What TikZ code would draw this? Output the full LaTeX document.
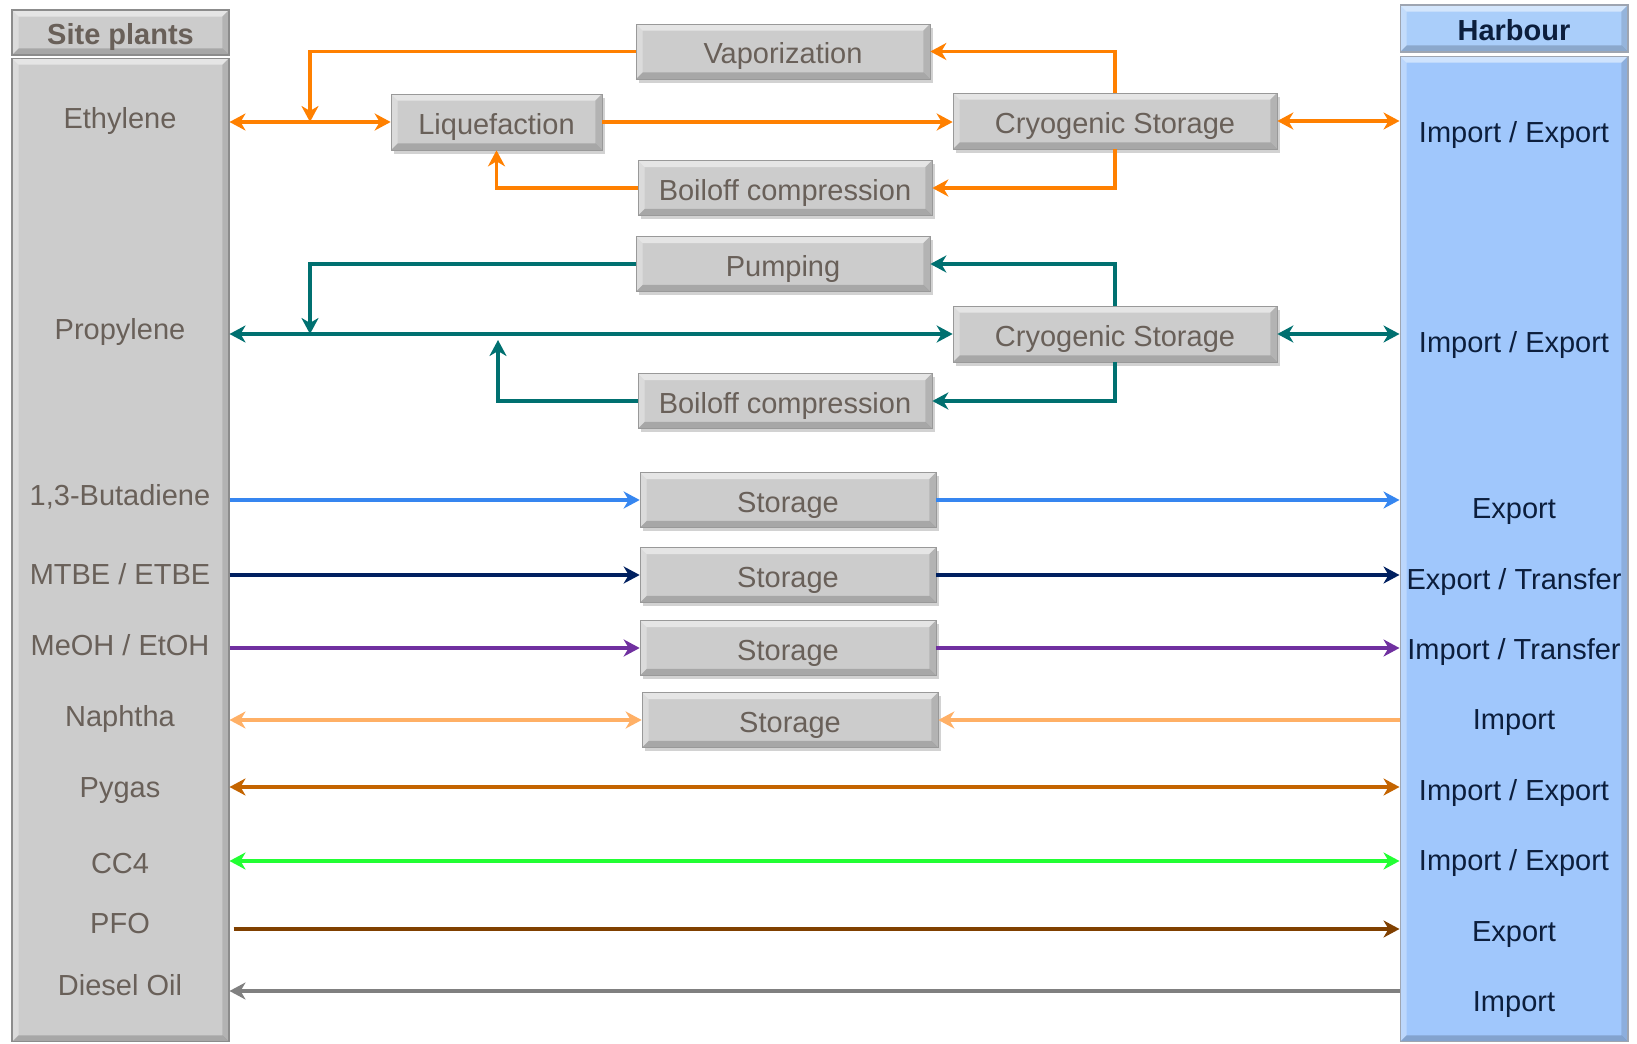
\documentclass[tikz,border=0pt]{standalone}
\usepackage{fontspec}
\setmainfont{Liberation Sans}
\usetikzlibrary{arrows.meta,shadows,calc}
\definecolor{boxgray}{RGB}{204,204,204}
\definecolor{boxtext}{RGB}{105,96,89}
\definecolor{hbfill}{RGB}{160,199,252}
\definecolor{hbhead}{RGB}{170,206,250}
\definecolor{hbtext}{RGB}{12,30,60}
\definecolor{cOrange}{RGB}{255,128,0}
\definecolor{cTeal}{RGB}{0,112,112}
\definecolor{cBlue}{RGB}{54,134,240}
\definecolor{cNavy}{RGB}{0,32,96}
\definecolor{cPurple}{RGB}{112,48,160}
\definecolor{cNaph}{RGB}{255,176,102}
\definecolor{cPygas}{RGB}{196,100,0}
\definecolor{cCC}{RGB}{34,255,51}
\definecolor{cPFO}{RGB}{128,64,0}
\definecolor{cDiesel}{RGB}{128,128,128}
\tikzset{
  bevel/.style={path picture={
    \fill[white,opacity=0.5] (path picture bounding box.north west) -- (path picture bounding box.north east) -- ([shift={(-0.13cm,-0.13cm)}]path picture bounding box.north east) -- ([shift={(0.13cm,-0.13cm)}]path picture bounding box.north west) -- cycle;
    \fill[white,opacity=0.3] (path picture bounding box.north west) -- (path picture bounding box.south west) -- ([shift={(0.13cm,0.13cm)}]path picture bounding box.south west) -- ([shift={(0.13cm,-0.13cm)}]path picture bounding box.north west) -- cycle;
    \fill[black,opacity=0.18] (path picture bounding box.south west) -- (path picture bounding box.south east) -- ([shift={(-0.13cm,0.13cm)}]path picture bounding box.south east) -- ([shift={(0.13cm,0.13cm)}]path picture bounding box.south west) -- cycle;
    \fill[black,opacity=0.12] (path picture bounding box.north east) -- (path picture bounding box.south east) -- ([shift={(-0.13cm,0.13cm)}]path picture bounding box.south east) -- ([shift={(-0.13cm,-0.13cm)}]path picture bounding box.north east) -- cycle;
  }},
  gbox/.style={draw=black!40,line width=0.4pt,fill=boxgray,bevel,inner sep=0pt,
    minimum height=1.1cm,minimum width=5.88cm,text=boxtext,
    text height=0.5cm,text depth=0cm,
    font=\fontsize{16.5}{20}\selectfont,
    drop shadow={shadow xshift=1.5pt,shadow yshift=-2pt,opacity=0.35}},
  spanel/.style={draw=black!45,line width=0.6pt,fill=boxgray,bevel,inner sep=0pt,minimum width=4.34cm},
  hpanel/.style={draw=hbtext!40,line width=0.6pt,fill=hbfill,bevel,inner sep=0pt,minimum width=4.56cm},
  capc/.style={inner sep=0pt,text height=0.416cm,text depth=0cm},
  sptxt/.style={capc,text=boxtext,font=\fontsize{16.5}{20}\selectfont},
  hbtxt/.style={capc,text=hbtext,font=\fontsize{16.5}{20}\selectfont},
  flow/.style={line width=0.075cm,arrows={-Stealth[length=0.32cm,width=0.34cm,inset=0.1cm]}},
  bflow/.style={line width=0.075cm,arrows={Stealth[length=0.32cm,width=0.34cm,inset=0.1cm]-Stealth[length=0.32cm,width=0.34cm,inset=0.1cm]}}
}
\begin{document}
\begin{tikzpicture}[x=0.02cm,y=-0.02cm]
\useasboundingbox[fill=white] (0,0) rectangle (1637,1044);
% panels
\node[spanel,minimum height=0.9cm] (sphead) at (120.5,32.5) {};
\node[capc,text=boxtext,font=\bfseries\fontsize{16.5}{20}\selectfont] (sptitle) at (120.5,34) {Site plants};
\node[spanel,minimum height=19.68cm] (spbody) at (120.5,550) {};
\node[hpanel,fill=hbhead,minimum height=0.94cm] (hbheadn) at (1514,28.5) {};
\node[capc,text=hbtext,font=\bfseries\fontsize{16.5}{20}\selectfont] (hbtitle) at (1514,30) {Harbour};
\node[hpanel,minimum height=19.72cm] (hbbody) at (1514,549) {};
% site plant labels
\node[sptxt] (l1) at (120,118) {Ethylene};
\node[sptxt] (l2) at (120,329) {Propylene};
\node[sptxt] (l3) at (120,495) {1,3-Butadiene};
\node[sptxt] (l4) at (120,574) {MTBE / ETBE};
\node[sptxt] (l5) at (120,645) {MeOH / EtOH};
\node[sptxt] (l6) at (120,716) {Naphtha};
\node[sptxt] (l7) at (120,787) {Pygas};
\node[sptxt] (l8) at (120,863) {CC4};
\node[sptxt] (l9) at (120,923) {PFO};
\node[sptxt] (l10) at (120,985) {Diesel Oil};
% harbour labels
\node[hbtxt] (r1) at (1514,132) {Import / Export};
\node[hbtxt] (r2) at (1514,342) {Import / Export};
\node[hbtxt] (r3) at (1514,508) {Export};
\node[hbtxt] (r4) at (1514,579) {Export / Transfer};
\node[hbtxt] (r5) at (1514,649) {Import / Transfer};
\node[hbtxt] (r6) at (1514,719) {Import};
\node[hbtxt] (r7) at (1514,790) {Import / Export};
\node[hbtxt] (r8) at (1514,860) {Import / Export};
\node[hbtxt] (r9) at (1514,931) {Export};
\node[hbtxt] (r10) at (1514,1001) {Import};
% process boxes
\node[gbox] (vap) at (783,51.5) {Vaporization};
\node[gbox,minimum width=4.22cm,minimum height=1.12cm] (liq) at (496.5,122) {Liquefaction};
\node[gbox,minimum width=6.48cm,minimum height=1.12cm] (cryo1) at (1115,121) {Cryogenic Storage};
\node[gbox] (boil1) at (785,188) {Boiloff compression};
\node[gbox] (pump) at (783,264) {Pumping};
\node[gbox,minimum width=6.48cm,minimum height=1.12cm] (cryo2) at (1115,334) {Cryogenic Storage};
\node[gbox] (boil2) at (785,401) {Boiloff compression};
\node[gbox,minimum width=5.92cm] (st1) at (788,500) {Storage};
\node[gbox,minimum width=5.92cm] (st2) at (788,575) {Storage};
\node[gbox,minimum width=5.92cm] (st3) at (788,648) {Storage};
\node[gbox,minimum width=5.92cm] (st4) at (790,720) {Storage};
% junction points
\coordinate (ej) at (310,122);
\coordinate (pj) at (310,334);
\coordinate (bj) at (498,340);
% ethylene (orange)
\begin{scope}[draw=cOrange,color=cOrange]
\draw[bflow] (spbody.east |- liq.west) -- (liq.west);
\draw[flow] (vap.west) -| (ej);
\draw[flow] (liq.east) -- (liq.east -| cryo1.west);
\draw[flow] (cryo1.north) |- (vap.east);
\draw[flow] (cryo1.south) |- (boil1.east);
\draw[flow] (boil1.west) -| (liq.south);
\draw[bflow] (cryo1.east) -- (hbbody.west |- cryo1.east);
\end{scope}
% propylene (teal)
\begin{scope}[draw=cTeal,color=cTeal]
\draw[bflow] (spbody.east |- cryo2.west) -- (cryo2.west);
\draw[flow] (pump.west) -| (pj);
\draw[flow] (cryo2.north) |- (pump.east);
\draw[flow] (cryo2.south) |- (boil2.east);
\draw[flow] (boil2.west) -| (bj);
\draw[bflow] (cryo2.east) -- (hbbody.west |- cryo2.east);
\end{scope}
% storages
\draw[flow,cBlue] (spbody.east |- st1.west) -- (st1.west);
\draw[flow,cBlue] (st1.east) -- (hbbody.west |- st1.east);
\draw[flow,cNavy] (spbody.east |- st2.west) -- (st2.west);
\draw[flow,cNavy] (st2.east) -- (hbbody.west |- st2.east);
\draw[flow,cPurple] (spbody.east |- st3.west) -- (st3.west);
\draw[flow,cPurple] (st3.east) -- (hbbody.west |- st3.east);
\draw[bflow,cNaph] (spbody.east |- st4.west) -- (st4.west);
\draw[flow,cNaph] (hbbody.west |- st4.east) -- (st4.east);
% direct lines
\coordinate (py) at (0,787);
\coordinate (cc) at (0,861);
\coordinate (pf) at (0,929);
\coordinate (di) at (0,991);
\draw[bflow,cPygas] (spbody.east |- py) -- (hbbody.west |- py);
\draw[bflow,cCC] (spbody.east |- cc) -- (hbbody.west |- cc);
\draw[flow,cPFO] ([xshift=0.08cm]spbody.east |- pf) -- (hbbody.west |- pf);
\draw[flow,cDiesel] (hbbody.west |- di) -- (spbody.east |- di);
\end{tikzpicture}
\end{document}
